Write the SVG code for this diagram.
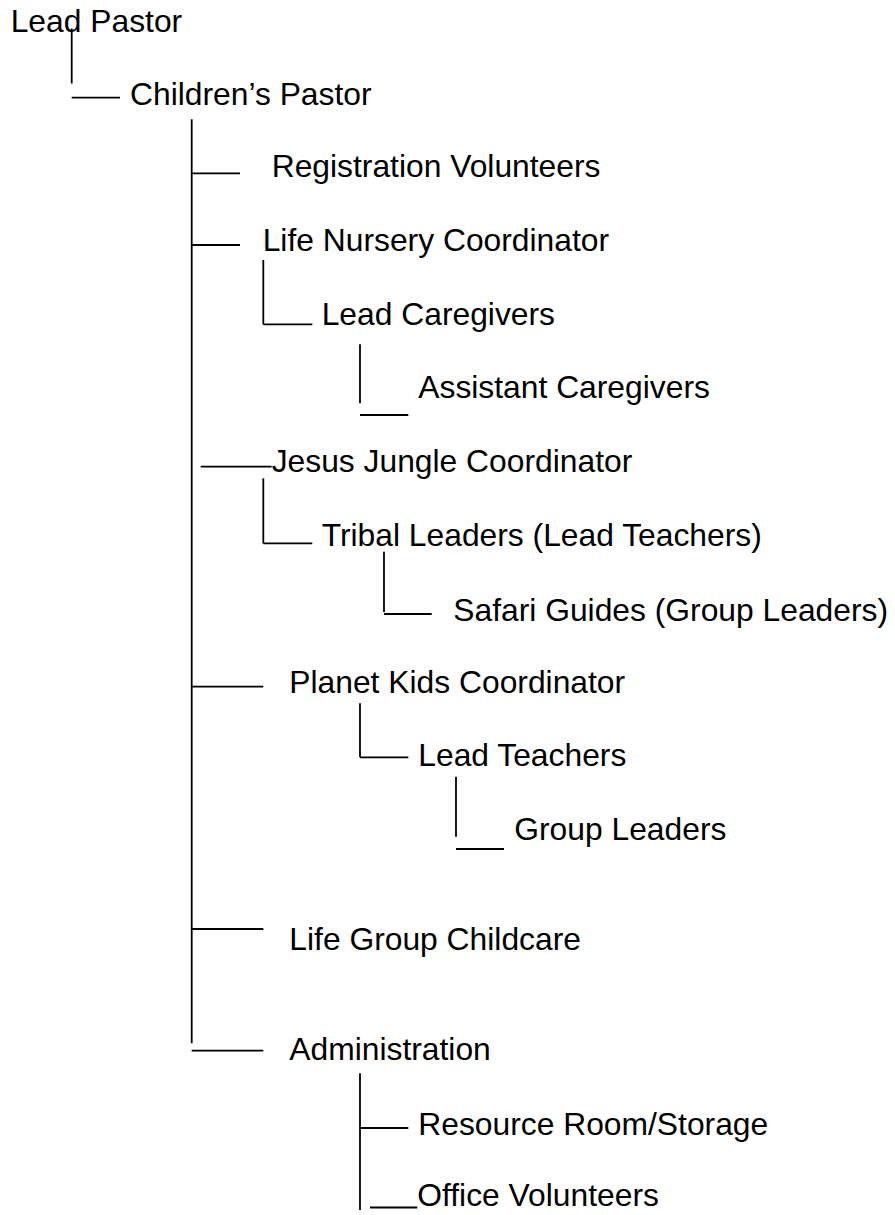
<svg xmlns="http://www.w3.org/2000/svg" width="895" height="1215" viewBox="0 0 895 1215">
<style>
text{font-family:"Liberation Sans",Arial,sans-serif;font-size:31.8px;fill:#000}
line{stroke:#000;stroke-width:1.8}
</style>
<rect width="895" height="1215" fill="#fff"/>
<g id="connectors">
<line x1="71.7" y1="28.5" x2="71.7" y2="83.5"/>
<line x1="71.7" y1="97.7" x2="120" y2="97.7"/>
<line x1="191.7" y1="119.3" x2="191.7" y2="1043.3"/>
<line x1="191.7" y1="173.3" x2="240" y2="173.3"/>
<line x1="191.7" y1="245" x2="240" y2="245"/>
<line x1="263.3" y1="260" x2="263.3" y2="324.3"/>
<line x1="263.3" y1="324.3" x2="312.3" y2="324.3"/>
<line x1="360" y1="344.3" x2="360" y2="403.3"/>
<line x1="360" y1="415" x2="408.3" y2="415"/>
<line x1="200.7" y1="466.7" x2="271.7" y2="466.7"/>
<line x1="263.3" y1="478.3" x2="263.3" y2="543.3"/>
<line x1="263.3" y1="543.3" x2="312.3" y2="543.3"/>
<line x1="384" y1="551.7" x2="384" y2="612"/>
<line x1="384" y1="614" x2="431.7" y2="614"/>
<line x1="191.7" y1="686.7" x2="263.3" y2="686.7"/>
<line x1="360" y1="703.3" x2="360" y2="757.3"/>
<line x1="360" y1="757.3" x2="408.3" y2="757.3"/>
<line x1="456" y1="776.7" x2="456" y2="836.7"/>
<line x1="456" y1="849" x2="504" y2="849"/>
<line x1="191.7" y1="929" x2="263.3" y2="929"/>
<line x1="191.7" y1="1050.7" x2="263.3" y2="1050.7"/>
<line x1="360" y1="1073.3" x2="360" y2="1210"/>
<line x1="360" y1="1128" x2="408.3" y2="1128"/>
<line x1="370" y1="1207.5" x2="417.3" y2="1207.5"/>
</g>
<g id="lead-pastor"><text x="10.7" y="31.7">Lead Pastor</text></g>
<g id="childrens-pastor"><text x="130" y="105">Children’s Pastor</text></g>
<g id="registration-volunteers"><text x="271.7" y="177">Registration Volunteers</text></g>
<g id="life-nursery-coordinator"><text x="262.7" y="251">Life Nursery Coordinator</text></g>
<g id="lead-caregivers"><text x="321.7" y="325">Lead Caregivers</text></g>
<g id="assistant-caregivers"><text x="418.3" y="398.3">Assistant Caregivers</text></g>
<g id="jesus-jungle-coordinator"><text x="271.7" y="472.3">Jesus Jungle Coordinator</text></g>
<g id="tribal-leaders"><text x="321.7" y="545.7">Tribal Leaders (Lead Teachers)</text></g>
<g id="safari-guides"><text x="453.3" y="620.7">Safari Guides (Group Leaders)</text></g>
<g id="planet-kids-coordinator"><text x="289.3" y="692.7">Planet Kids Coordinator</text></g>
<g id="lead-teachers"><text x="418.3" y="766">Lead Teachers</text></g>
<g id="group-leaders"><text x="514.3" y="840">Group Leaders</text></g>
<g id="life-group-childcare"><text x="289.3" y="950">Life Group Childcare</text></g>
<g id="administration"><text x="289.3" y="1060">Administration</text></g>
<g id="resource-room"><text x="418.3" y="1135">Resource Room/Storage</text></g>
<g id="office-volunteers"><text x="417.3" y="1206">Office Volunteers</text></g>
</svg>
